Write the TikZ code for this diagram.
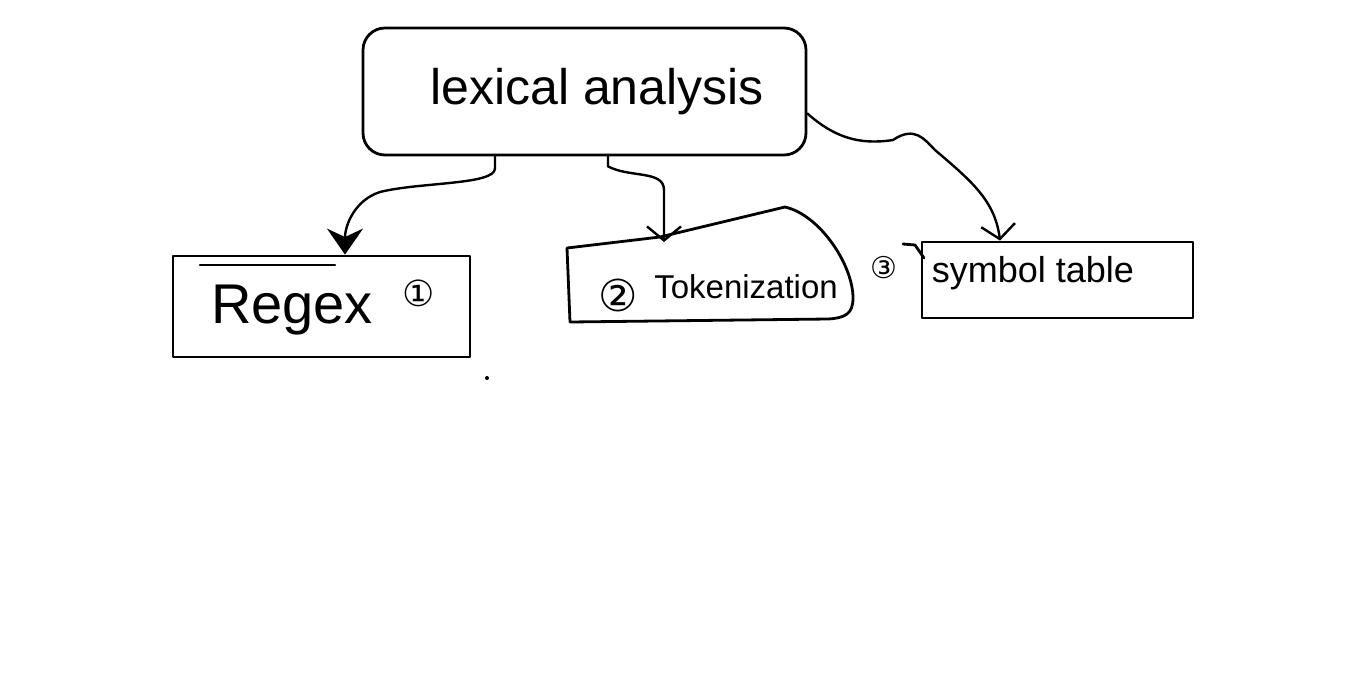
\documentclass[tikz,border=0pt]{standalone}
\usepackage{fontspec}
\setmainfont{Liberation Sans}
\newfontfamily\symfont{DejaVu Sans}
\usetikzlibrary{arrows.meta}
\begin{document}
\begin{tikzpicture}[x=1pt,y=-1pt, line join=round, line cap=round,
 box/.style={draw, line width=2.8pt, inner sep=0pt},
 outline/.style={draw, line width=2.8pt},
 conn/.style={line width=2.4pt},
 openhead/.style={-{Straight Barb[length=14pt,width=34pt,line width=2.4pt]}},
 solidhead/.style={-{Stealth[length=26pt,width=36pt]}},
 lbl/.style={inner sep=0pt}]
\useasboundingbox[fill=white] (0,0) rectangle (1360,673);
% top box
\node[box, rounded corners=22pt, minimum width=443pt, minimum height=127pt] (top) at (584.5,91.5) {};
\node[lbl, font=\fontsize{50}{54}\selectfont] (toptxt) at (597,92) {lexical analysis};
% regex box
\node[box, minimum width=297pt, minimum height=101pt] (regex) at (321.5,306.5) {};
\draw[conn] (200,265) -- (335,265);
\node[lbl, font=\fontsize{56}{60}\selectfont] (regextxt) at (292,310) {Regex};
\node[lbl, font=\symfont\fontsize{36}{38}\selectfont] (one) at (419,293) {①};
% tokenization box
\node[lbl, minimum width=286pt, minimum height=72pt] (token) at (710,284) {};
\draw[outline] (567,248) -- (660,237) -- (785,207)
  .. controls (820,215) and (853,265) .. (853,298)
  .. controls (853,314) and (845,318) .. (828,319) -- (570,322) -- cycle;
\coordinate (tokin) at (664,242);
\node[lbl, font=\symfont\fontsize{44}{46}\selectfont] (two) at (618,295) {②};
\node[lbl, font=\fontsize{33}{36}\selectfont] (toktxt) at (746,287) {Tokenization};
% symbol table box
\node[box, minimum width=271pt, minimum height=76pt] (sym) at (1057.5,280) {};
\draw[outline] (903,244) -- (915,245) -- (924,258);
\node[lbl, font=\symfont\fontsize{30}{32}\selectfont] (three) at (884,268) {③};
\node[lbl, font=\fontsize{36}{40}\selectfont] (symtxt) at (1033,273) {symbol table};
% connectors
\draw[conn, solidhead] ([xshift=-89.5pt]top.south) -- ++(0,12)
  .. controls (495,185) and (420,182) .. (380,192)
  .. controls (355,200) and (345,225) .. ([xshift=23.5pt]regex.north);
\draw[conn, openhead] ([xshift=23.5pt]top.south) -- ++(0,10)
  .. controls (630,178) and (664,170) .. (664,190) -- (tokin);
\draw[conn, openhead] ([yshift=-22pt]top.east) .. controls (835,138) and (860,145) .. (893,140)
  .. controls (915,125) and (925,140) .. (935,150)
  .. controls (970,180) and (995,200) .. ([xshift=-57.5pt]sym.north);
% stray dot
\fill (487,378) circle (2pt);
\end{tikzpicture}
\end{document}
